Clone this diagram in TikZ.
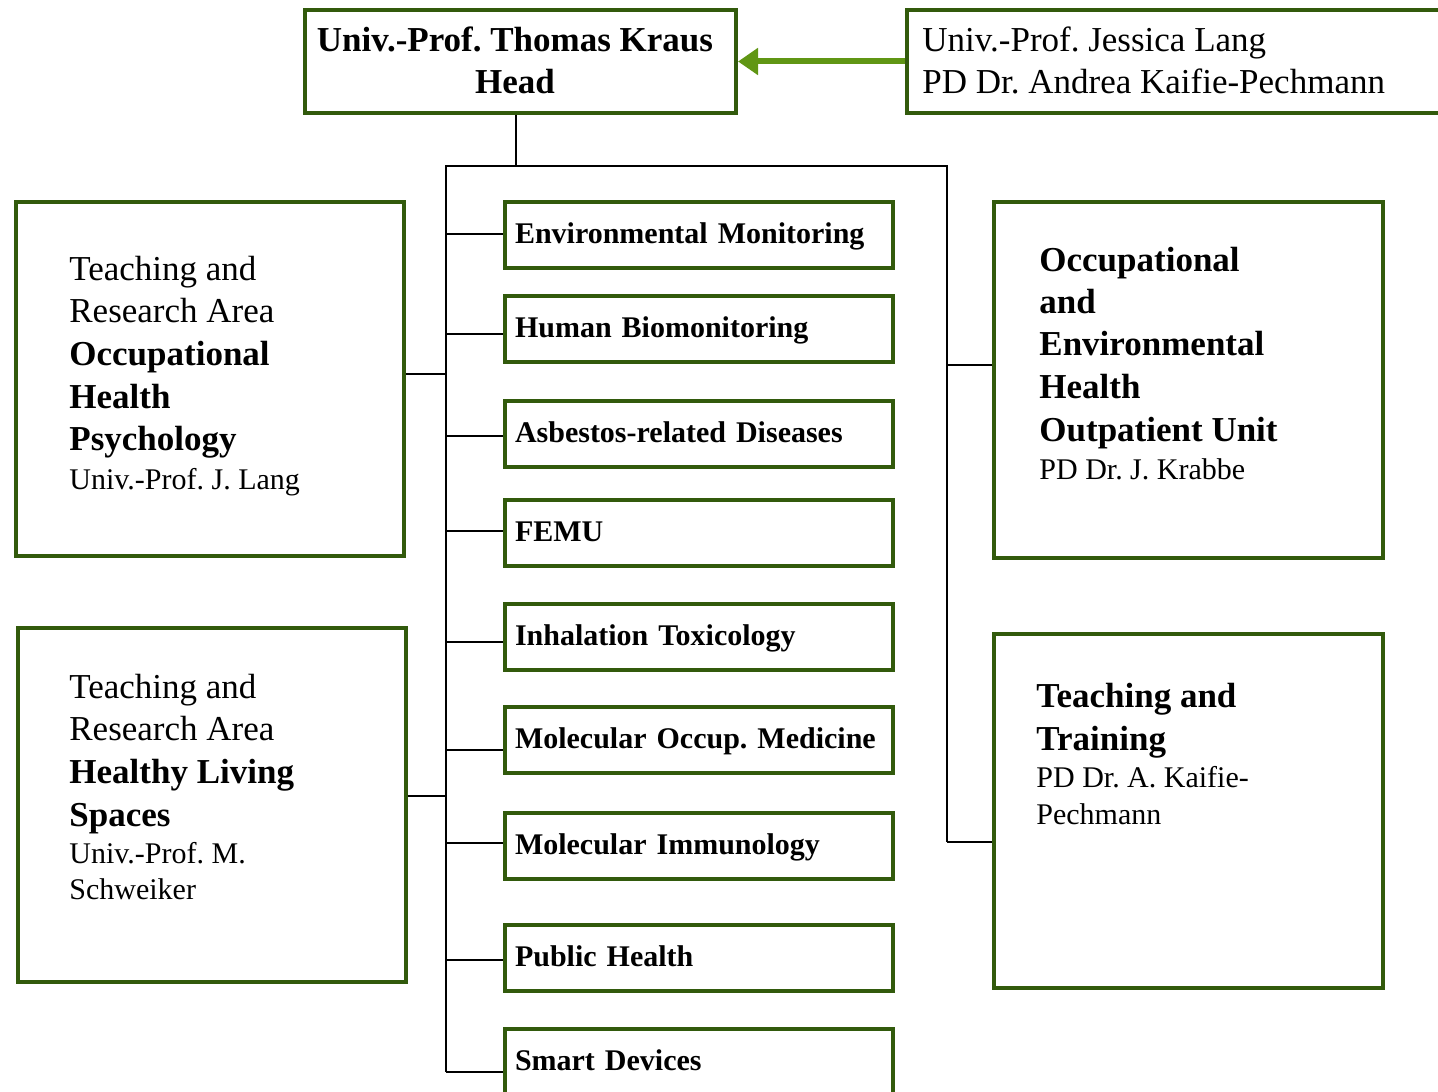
\documentclass[tikz,border=0pt]{standalone}
\usepackage{fontspec}
\setmainfont{Liberation Serif}
\usepackage{xcolor}
\usepackage{tikz}
\usetikzlibrary{arrows.meta}

\definecolor{boxgreen}{RGB}{50,90,12}
\definecolor{arrowgreen}{RGB}{96,150,20}
\newcommand{\orgbig}{\fontsize{17.5}{21}\selectfont}
\newcommand{\orgsmall}{\fontsize{15}{18}\selectfont}
\frenchspacing

\tikzset{
  gbox/.style={draw=boxgreen, line width=2pt, inner sep=0pt},
  unitbox/.style={gbox, minimum width=194pt, minimum height=33pt, text width=184pt, align=left, inner xsep=5pt, text height=11.5pt, text depth=3pt, font=\orgsmall\bfseries},
  bigtxt/.style={anchor=base west, inner sep=0pt, font=\orgbig},
  smalltxt/.style={anchor=base west, inner sep=0pt, font=\orgsmall},
  link/.style={draw=black, line width=0.75pt},
  feed/.style={draw=arrowgreen, line width=3pt, -{Triangle[length=10pt,width=13pt]}}
}

\begin{document}
\begin{tikzpicture}[x=0.5pt, y=-0.5pt]
                        \useasboundingbox (0,0) rectangle (1438,1091);
                        \clip (0,0) rectangle (1438,1091);
                        \node[gbox, minimum width=215.5pt, minimum height=51.5pt] (head) at (520.5,61.5) {};
                        \node[anchor=base, inner sep=0pt, font=\orgbig\bfseries] (headt1) at (515,52) {Univ.-Prof. Thomas Kraus};
                        \node[anchor=base, inner sep=0pt, font=\orgbig\bfseries] (headt2) at (515,94) {Head};
                        \node[gbox, minimum width=270pt, minimum height=51.5pt, anchor=west] (dep) at (905,61.5) {};
                        \node[bigtxt] (dept1) at (922,52) {Univ.-Prof. Jessica Lang};
                        \node[bigtxt] (dept2) at (922,94) {PD Dr. Andrea Kaifie-Pechmann};
                        \draw[feed] (dep.west) -- (head.east);
                        \coordinate (ltrunk) at (446,166);
                        \coordinate (rtrunk) at (947,166);
                        \draw[link] ([xshift=-2.25pt]head.south) -- ([xshift=-2.25pt]head.south |- ltrunk);
                        \draw[link] (ltrunk |- 0,1072) -- (ltrunk) -- (rtrunk) -- (rtrunk |- 0,842);
                        \foreach \n/\c/\b/\t in {envm/235/234/Environmental Monitoring, hbm/328.5/334/Human Biomonitoring, asb/433.5/436/Asbestos-related Diseases, femu/533/531/FEMU, inhal/637/642/Inhalation Toxicology, mom/740/750/Molecular Occup. Medicine, moi/846/843/Molecular Immunology, pubh/958/960/Public Health, smart/1062/1072/Smart Devices}
                        {
                        \node[unitbox] (\n) at (699,\c) {\t};
                        \draw[link] (ltrunk |- 0,\b) -- (\n.west |- 0,\b);
                        }
                        \node[gbox, minimum width=194pt, minimum height=177pt] (ohp) at (210,379) {};
                        \foreach \t/\yy [count=\i] in {Teaching and/280, Research Area/322, \textbf{Occupational}/365, \textbf{Health}/408, \textbf{Psychology}/450}
                        \node[bigtxt] (ohpt\i) at (69,\yy) {\t};
                        \node[smalltxt] (ohpt6) at (69,489) {Univ.-Prof. J. Lang};
                        \draw[link] (ltrunk |- 0,374) -- (ohp.east |- 0,374);
                        \node[gbox, minimum width=194pt, minimum height=177pt] (hls) at (212,805) {};
                        \foreach \t/\yy [count=\i] in {Teaching and/698, Research Area/740, \textbf{Healthy Living}/783, \textbf{Spaces}/826}
                        \node[bigtxt] (hlst\i) at (69,\yy) {\t};
                        \node[smalltxt] (hlst5) at (69,863) {Univ.-Prof. M.};
                        \node[smalltxt] (hlst6) at (69,899) {Schweiker};
                        \draw[link] (ltrunk |- 0,796) -- (hls.east |- 0,796);
                        \node[gbox, minimum width=194.5pt, minimum height=178pt] (oeh) at (1188.5,380) {};
                        \foreach \t/\yy [count=\i] in {Occupational/271, and/313, Environmental/355, Health/398, Outpatient Unit/441}
                        \node[bigtxt, font=\orgbig\bfseries] (oeht\i) at (1039,\yy) {\t};
                        \node[smalltxt] (oeht6) at (1039,479) {PD Dr. J. Krabbe};
                        \draw[link] (rtrunk |- 0,365) -- (oeh.west |- 0,365);
                        \node[gbox, minimum width=194.5pt, minimum height=177pt] (ttr) at (1188.5,811) {};
                        \node[bigtxt, font=\orgbig\bfseries] (ttrt1) at (1036,707) {Teaching and};
                        \node[bigtxt, font=\orgbig\bfseries] (ttrt2) at (1036,750) {Training};
                        \node[smalltxt] (ttrt3) at (1036,787) {PD Dr. A. Kaifie-};
                        \node[smalltxt] (ttrt4) at (1036,824) {Pechmann};
                        \draw[link] (rtrunk |- 0,842) -- (ttr.west |- 0,842);
                    \end{tikzpicture}
\end{document}
